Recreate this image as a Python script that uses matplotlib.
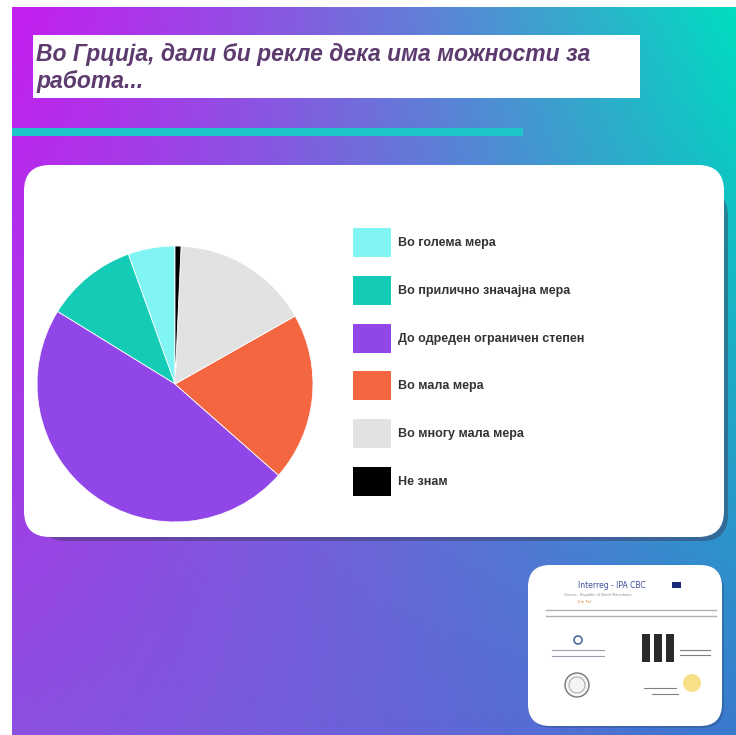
import matplotlib.pyplot as plt
import numpy as np
from matplotlib.patches import FancyBboxPatch, Rectangle, Circle

# Данные диаграммы (доли ответов, %)
labels = ["Во голема мера", "Во прилично значајна мера", "До одреден ограничен степен",
          "Во мала мера", "Во многу мала мера", "Не знам"]
values = [5.5, 10.7, 47.3, 19.7, 16.1, 0.7]
colors = ["#80f5f3", "#14ccb6", "#9146e8", "#f4663f", "#e2e2e2", "#000000"]

title = "Во Грција, дали би рекле дека има можности за\nработа..."

W, H = 736, 735

fig = plt.figure(figsize=(W / 100, H / 100), dpi=100)
fig.patch.set_facecolor("white")

# Фон - градиент
bg = fig.add_axes([0, 0, 1, 1])
bg.set_xlim(0, W)
bg.set_ylim(H, 0)
bg.axis("off")

tl = np.array([196, 31, 240]) / 255
tr = np.array([0, 222, 192]) / 255
bl = np.array([140, 80, 224]) / 255
br = np.array([58, 122, 206]) / 255
gx = np.linspace(0, 1, 300)
gy = np.linspace(0, 1, 300)
X, Y = np.meshgrid(gx, gy)
Xs = X ** 1.2
img = ((1 - Xs)[..., None] * (1 - Y)[..., None] * tl + Xs[..., None] * (1 - Y)[..., None] * tr
       + (1 - Xs)[..., None] * Y[..., None] * bl + Xs[..., None] * Y[..., None] * br)
bg.imshow(img, extent=[12, W, H, 7], aspect="auto", interpolation="bilinear", zorder=0)

# Заголовок
bg.add_patch(Rectangle((33, 35), 607, 63, facecolor="white", edgecolor="none", zorder=2))
bg.text(36, 68, title, fontsize=16.5, fontweight="bold", style="italic", color="#5d3b6e",
        family=["Liberation Sans", "DejaVu Sans"], va="center", ha="left", linespacing=1.2, zorder=3)
bg.add_patch(Rectangle((12, 128), 511, 8, facecolor="#1fc6c9", edgecolor="none", zorder=2))

# Карточка с диаграммой
bg.add_patch(FancyBboxPatch((40, 190), 688, 351, boxstyle="round,pad=0,rounding_size=26",
                            facecolor="#3a3a5a", edgecolor="none", alpha=0.45, zorder=1))
bg.add_patch(FancyBboxPatch((24, 165), 700, 372, boxstyle="round,pad=0,rounding_size=26",
                            facecolor="white", edgecolor="none", zorder=2))

# Карточка с логотипами
bg.add_patch(FancyBboxPatch((530, 568), 194, 160, boxstyle="round,pad=0,rounding_size=22",
                            facecolor="#2a4a7a", edgecolor="none", alpha=0.35, zorder=1))
bg.add_patch(FancyBboxPatch((528, 565), 194, 161, boxstyle="round,pad=0,rounding_size=22",
                            facecolor="white", edgecolor="none", zorder=2))
bg.text(612, 588, "Interreg - IPA CBC", fontsize=5.5, color="#3a4a9a", ha="center", zorder=3)
bg.add_patch(Rectangle((672, 582), 9, 6, facecolor="#1a2a7a", zorder=3))
bg.text(598, 596, "Greece - Republic of North Macedonia", fontsize=2.5, color="#888888", ha="center", zorder=3)
bg.text(585, 603, "Ein Tel", fontsize=3, color="#d08a40", ha="center", zorder=3)
bg.plot([546, 716], [610, 610], color="#b0b0b0", lw=1.0, zorder=3)
bg.plot([546, 716], [616, 616], color="#b0b0b0", lw=1.0, zorder=3)
bg.add_patch(Circle((578, 640), 4, facecolor="none", edgecolor="#4a6aa0", lw=1.2, zorder=3))
bg.plot([552, 604], [650, 650], color="#9aa0b0", lw=0.8, zorder=3)
bg.plot([552, 604], [656, 656], color="#9aa0b0", lw=0.8, zorder=3)
for bx in [642, 654, 666]:
    bg.add_patch(Rectangle((bx, 634), 8, 28, facecolor="#2a2a2a", zorder=3))
bg.plot([680, 710], [650, 650], color="#808080", lw=0.8, zorder=3)
bg.plot([680, 710], [655, 655], color="#808080", lw=0.8, zorder=3)
bg.add_patch(Circle((577, 685), 12, facecolor="#f4f4f4", edgecolor="#777777", lw=1.0, zorder=3))
bg.add_patch(Circle((577, 685), 8, facecolor="none", edgecolor="#999999", lw=0.6, zorder=3))
bg.add_patch(Circle((692, 683), 9, facecolor="#f6d96a", edgecolor="none", alpha=0.8, zorder=3))
bg.plot([644, 676], [688, 688], color="#808080", lw=0.8, zorder=3)
bg.plot([652, 678], [694, 694], color="#808080", lw=0.8, zorder=3)

# Круговая диаграмма
cx, cy, r = 175, 384, 138
ax = fig.add_axes([(cx - r) / W, (H - cy - r) / H, 2 * r / W, 2 * r / H])
ax.pie(values, colors=colors, startangle=90, counterclock=True,
       wedgeprops={"edgecolor": "white", "linewidth": 0.6})
ax.set_xlim(-1, 1)
ax.set_ylim(-1, 1)
ax.set_aspect("equal")
ax.axis("off")

# Легенда
for i, (lab, col) in enumerate(zip(labels, colors)):
    y = 242 + i * 47.8
    bg.add_patch(Rectangle((353, y - 14), 38, 29, facecolor=col, edgecolor="none", zorder=3))
    bg.text(398, y + 1, lab, fontsize=9, fontweight="bold", color="#333333",
            family=["Liberation Sans", "DejaVu Sans"], va="center", ha="left", zorder=3)

plt.savefig("out.png", dpi=100)
